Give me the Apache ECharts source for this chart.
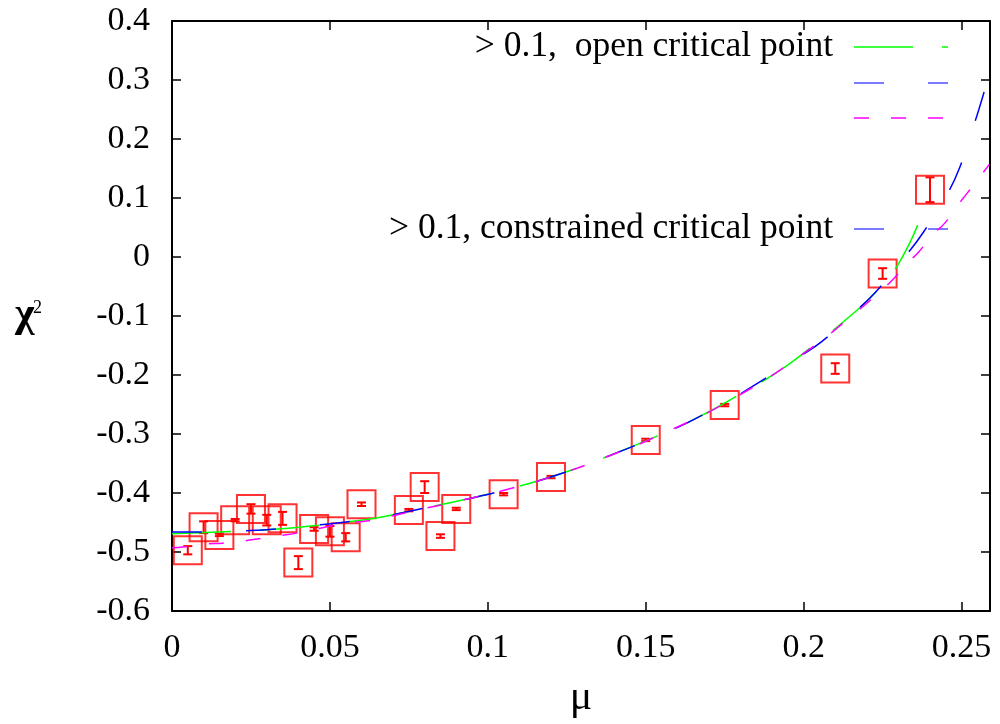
<!DOCTYPE html>
<html>
<head>
<meta charset="utf-8">
<script src="https://cdn.jsdelivr.net/npm/echarts@6/dist/echarts.min.js"></script>
<style>
  html, body { margin: 0; padding: 0; background: #ffffff; }
  #chart { width: 1000px; height: 724px; }
</style>
</head>
<body>
<div id="chart"></div>
<script>
// Measured points: chemical potential mu, chi value and its error
const muValues  = [0.005, 0.010, 0.015, 0.020, 0.025, 0.030, 0.035, 0.040, 0.045, 0.050, 0.055, 0.060,
                   0.075, 0.080, 0.085, 0.090, 0.105, 0.120, 0.150, 0.175, 0.210, 0.225, 0.240];
const chiValues = [-0.497, -0.458, -0.471, -0.446, -0.427, -0.446, -0.443, -0.518, -0.461, -0.465, -0.475, -0.419,
                   -0.429, -0.390, -0.473, -0.427, -0.402, -0.373, -0.310, -0.251, -0.189, -0.028, 0.114];
const chiErrors = [0.007, 0.010, 0.002, 0.002, 0.008, 0.009, 0.011, 0.011, 0.003, 0.009, 0.007, 0.003,
                   0.002, 0.010, 0.003, 0.002, 0.002, 0.002, 0.002, 0.002, 0.009, 0.009, 0.021];

// Fit curve: open critical point (green)
const openMu  = [0, 0.015, 0.031, 0.044, 0.054, 0.066, 0.0785, 0.092, 0.1075, 0.1238, 0.1365, 0.1539,
                 0.165, 0.1787, 0.1925, 0.2019, 0.2165, 0.2234, 0.2294, 0.2361];
const openChi = [-0.469, -0.466, -0.462, -0.456, -0.450, -0.441, -0.427, -0.412, -0.392, -0.366, -0.341, -0.303,
                 -0.276, -0.236, -0.192, -0.155, -0.092, -0.056, -0.017, 0.054];

// Fit curve: second fit (blue)
const blueMu  = [0, 0.010, 0.023, 0.033, 0.047, 0.055, 0.066, 0.0785, 0.092, 0.1075, 0.1238, 0.1365, 0.1539,
                 0.165, 0.1787, 0.1988, 0.2058, 0.2165, 0.2234, 0.2323, 0.2379, 0.2456, 0.2495, 0.2538, 0.2566, 0.259];
const blueChi = [-0.466, -0.466, -0.464, -0.461, -0.454, -0.449, -0.441, -0.427, -0.412, -0.392, -0.366, -0.341, -0.303,
                 -0.276, -0.236, -0.168, -0.143, -0.092, -0.056, 0.002, 0.042, 0.108, 0.153, 0.222, 0.270, 0.315];

// Fit curve: third fit (magenta)
const magMu  = [0, 0.004, 0.0114, 0.016, 0.023, 0.028, 0.0347, 0.0394, 0.0553, 0.0622, 0.0785, 0.092, 0.1075,
                0.1238, 0.1365, 0.1539, 0.1787, 0.2019, 0.2165, 0.2251, 0.2288, 0.2334, 0.2365, 0.2411, 0.2446,
                0.2488, 0.2516, 0.2561, 0.2588];
const magChi = [-0.493, -0.491, -0.486, -0.485, -0.481, -0.477, -0.472, -0.468, -0.451, -0.447, -0.428, -0.412, -0.392,
                -0.366, -0.341, -0.303, -0.237, -0.156, -0.094, -0.054, -0.035, -0.008, 0.009, 0.039, 0.057,
                0.088, 0.107, 0.138, 0.157];

const xTicks = [0, 0.05, 0.1, 0.15, 0.2, 0.25];
const legendOpen = '> 0.1,  open critical point';
const legendConstrained = '> 0.1, constrained critical point';

const SERIF = '"Liberation Serif", "DejaVu Serif", serif';
const RED = '#ff0000', GREEN = '#00ff00', BLUE = '#0000ff', MAGENTA = '#ff00ff';

const zip = (a, b) => a.map((v, i) => [v, b[i]]);
const points = muValues.map((m, i) => [m, chiValues[i], chiErrors[i]]);

const chart = echarts.init(document.getElementById('chart'), null, { renderer: 'canvas' });

const frameAxis = {
  axisLine: { show: true, onZero: false, lineStyle: { color: '#000', width: 2 } },
  axisTick: { show: true, inside: true, length: 9, lineStyle: { color: '#000', width: 1.5 } },
  splitLine: { show: false }
};

function onTick(v) {
  return xTicks.some(t => Math.abs(t - v) < 1e-9);
}

// Legend sample line drawn as a dashed segment
function sample(y, color, dash) {
  return {
    type: 'line',
    shape: { x1: 854, y1: y, x2: 948, y2: y },
    style: { stroke: color, lineWidth: 1.5, lineDash: dash },
    silent: true
  };
}

const option = {
  animation: false,
  backgroundColor: '#ffffff',
  grid: { left: 172, right: 10, top: 21, bottom: 112, containLabel: false },
  xAxis: [
    Object.assign({}, frameAxis, {
      type: 'value', position: 'bottom', min: 0, max: 0.259, interval: 0.05,
      axisLabel: {
        show: true, margin: 20, color: '#000', fontFamily: SERIF, fontSize: 34,
        formatter: v => onTick(v) ? String(+v.toFixed(2)) : ''
      },
      name: 'μ', nameLocation: 'middle', nameGap: 66,
      nameTextStyle: { color: '#000', fontFamily: SERIF, fontSize: 42 }
    }),
    Object.assign({}, frameAxis, {
      type: 'value', position: 'top', min: 0, max: 0.259, interval: 0.05,
      axisLabel: { show: false }
    })
  ],
  yAxis: [
    Object.assign({}, frameAxis, {
      type: 'value', position: 'left', min: -0.6, max: 0.4, interval: 0.1,
      axisLabel: {
        show: true, margin: 22, color: '#000', fontFamily: SERIF, fontSize: 34,
        formatter: v => String(+v.toFixed(2))
      }
    }),
    Object.assign({}, frameAxis, {
      type: 'value', position: 'right', min: -0.6, max: 0.4, interval: 0.1,
      axisLabel: { show: false }
    })
  ],
  series: [
    {
      name: 'points', type: 'scatter', data: points.map(p => [p[0], p[1]]),
      symbol: 'rect', symbolSize: 28, z: 3,
      itemStyle: { color: 'rgba(0,0,0,0)', borderColor: RED, borderWidth: 2 }
    },
    {
      name: 'errors', type: 'custom', data: points, z: 4,
      renderItem: function (params, api) {
        const x = api.value(0), y = api.value(1), e = api.value(2);
        const top = api.coord([x, y + e]);
        const bot = api.coord([x, y - e]);
        const c = 4.5;
        const st = { stroke: RED, lineWidth: 2 };
        return {
          type: 'group',
          children: [
            { type: 'line', shape: { x1: top[0], y1: top[1], x2: bot[0], y2: bot[1] }, style: st },
            { type: 'line', shape: { x1: top[0] - c, y1: top[1], x2: top[0] + c, y2: top[1] }, style: st },
            { type: 'line', shape: { x1: bot[0] - c, y1: bot[1], x2: bot[0] + c, y2: bot[1] }, style: st }
          ]
        };
      }
    },
    {
      name: 'open', type: 'line', data: zip(openMu, openChi), smooth: true, showSymbol: false, z: 5,
      lineStyle: { color: GREEN, width: 1.5, type: [59, 29] }
    },
    {
      name: 'blue', type: 'line', data: zip(blueMu, blueChi), smooth: true, showSymbol: false, z: 6,
      lineStyle: { color: BLUE, width: 1.5, type: [30, 44] }
    },
    {
      name: 'magenta', type: 'line', data: zip(magMu, magChi), smooth: true, showSymbol: false, z: 7,
      lineStyle: { color: MAGENTA, width: 1.5, type: [15, 22] }
    }
  ],
  graphic: [
    { type: 'text', left: 15, top: 294, silent: true,
      style: { text: 'χ', fill: '#000', font: 'bold 42px ' + SERIF } },
    { type: 'text', left: 33, top: 299, silent: true,
      style: { text: '2', fill: '#000', font: '18px ' + SERIF } },
    { type: 'text', silent: true,
      style: { x: 833, y: 47, text: legendOpen, fill: '#000', font: '35.5px ' + SERIF,
               textAlign: 'right', textVerticalAlign: 'middle' } },
    { type: 'text', silent: true,
      style: { x: 833, y: 229, text: legendConstrained, fill: '#000', font: '35.5px ' + SERIF,
               textAlign: 'right', textVerticalAlign: 'middle' } },
    sample(47, GREEN, [59, 29]),
    sample(83, '#5050ff', [30, 44]),
    sample(118, MAGENTA, [15, 22]),
    sample(229, '#5050ff', [30, 44])
  ]
};

chart.setOption(option);
</script>
</body>
</html>
